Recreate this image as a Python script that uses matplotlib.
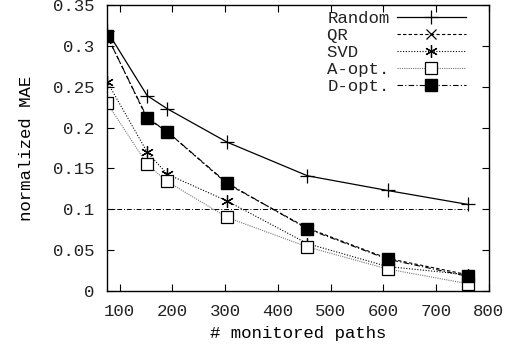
# normalized MAE vs number of monitored paths
import matplotlib
matplotlib.use('Agg')
import matplotlib.pyplot as plt

paths = [76, 152, 190, 304, 456, 608, 760]
mae_random = [0.318, 0.239, 0.223, 0.182, 0.141, 0.123, 0.106]
mae_qr = [0.312, 0.211, 0.195, 0.131, 0.077, 0.040, 0.020]
mae_svd = [0.256, 0.170, 0.143, 0.110, 0.058, 0.030, 0.020]
mae_aopt = [0.230, 0.155, 0.134, 0.090, 0.054, 0.027, 0.009]
mae_dopt = [0.312, 0.212, 0.195, 0.132, 0.076, 0.039, 0.018]
threshold = 0.1

plt.rcParams['font.family'] = ['Liberation Mono', 'DejaVu Sans Mono']
plt.rcParams['font.size'] = 12.5
plt.rcParams['text.color'] = '#222222'
plt.rcParams['xtick.labelcolor'] = '#222222'
plt.rcParams['ytick.labelcolor'] = '#222222'

fig = plt.figure(figsize=(5.25, 3.49), dpi=100)
ax = fig.add_axes([0.204, 0.166, 0.727, 0.82])

ax.plot(paths, mae_random, color='black', lw=0.9, ls='-', marker='+', ms=10, mew=0.9, label='Random')
ax.plot(paths, mae_qr, color='black', lw=0.8, ls=(0, (3, 2)), marker='x', ms=7, mew=0.9, label='QR')
ax.plot(paths, mae_svd, color='black', lw=0.8, ls=(0, (1, 1.5)), marker=(6, 2, 0), ms=9, mew=0.9, label='SVD')
ax.plot(paths, mae_aopt, color='#777777', lw=0.8, ls=(0, (1, 1)), marker='s', ms=8, mew=0.9,
        mfc='white', mec='black', label='A-opt.')
ax.plot(paths, mae_dopt, color='black', lw=0.8, ls=(0, (5, 2, 1, 2)), marker='s', ms=9,
        mfc='black', mec='black', label='D-opt.')
ax.plot([paths[0], paths[-1]], [threshold, threshold], color='black', lw=0.7, ls=(0, (5, 2, 1, 2)))

ax.set_xlim(76, 800)
ax.set_ylim(0, 0.35)
ax.set_xticks([100, 200, 300, 400, 500, 600, 700, 800])
ax.set_yticks([0, 0.05, 0.1, 0.15, 0.2, 0.25, 0.3, 0.35])
ax.set_yticklabels(['0', '0.05', '0.1', '0.15', '0.2', '0.25', '0.3', '0.35'])
ax.tick_params(direction='in', top=True, right=True, length=5, width=0.8)
ax.tick_params(axis='y', pad=9)
ax.tick_params(axis='x', pad=9)
for s in ax.spines.values():
    s.set_linewidth(1.0)

ax.set_xlabel('# monitored paths', labelpad=5)
ax.set_ylabel('normalized MAE', labelpad=14)

labels = ['Random', 'QR', 'SVD', 'A-opt.', 'D-opt.']
handles, _ = ax.get_legend_handles_labels()
ax.legend(handles, [t.ljust(6) for t in labels], loc='upper right', bbox_to_anchor=(0.945, 0.985),
          frameon=False, markerfirst=False, handlelength=4.0, handletextpad=0.4,
          labelspacing=0.1, borderaxespad=0.0, borderpad=0.1)

fig.savefig('out.png', dpi=100)
